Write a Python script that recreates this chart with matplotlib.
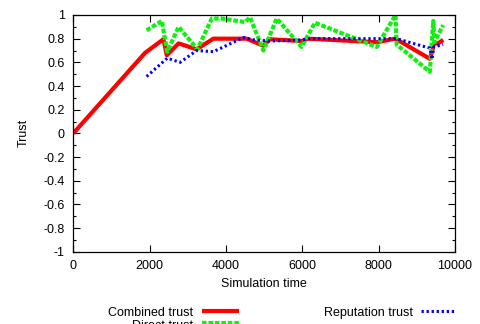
import matplotlib
matplotlib.use("Agg")
import matplotlib.pyplot as plt
from matplotlib.lines import Line2D
from matplotlib.ticker import MultipleLocator

plt.rcParams["font.family"] = ["Liberation Sans", "DejaVu Sans"]
plt.rcParams["font.size"] = 9
plt.rcParams["axes.unicode_minus"] = False

# Combined trust
combined_time = [0, 1880, 2360, 2450, 2760, 3230, 3670, 4540, 4980, 5150,
                 5980, 6140, 7950, 8440, 9340, 9400, 9450, 9560, 9690]
combined_trust = [0.0, 0.68, 0.795, 0.66, 0.76, 0.71, 0.80, 0.80, 0.74, 0.795,
                  0.78, 0.80, 0.77, 0.80, 0.63, 0.69, 0.76, 0.76, 0.79]

# Direct trust
direct_time = [1920, 2320, 2460, 2760, 3250, 3630, 3890, 4500, 4630, 4980,
               5330, 5980, 6330, 7950, 8440, 8470, 9340, 9430, 9460, 9690]
direct_trust = [0.87, 0.95, 0.69, 0.90, 0.71, 0.97, 0.97, 0.94, 0.98, 0.70,
                0.97, 0.73, 0.935, 0.73, 1.0, 0.75, 0.52, 0.95, 0.77, 0.915]

# Reputation trust
reputation_time = [1920, 2460, 2800, 3230, 3670, 4460, 4720, 5150, 6030, 6140,
                   8470, 9340, 9400, 9440, 9690]
reputation_trust = [0.48, 0.635, 0.60, 0.70, 0.69, 0.81, 0.79, 0.78, 0.79, 0.80,
                    0.80, 0.72, 0.625, 0.73, 0.75]

W, H = 480, 324
fig = plt.figure(figsize=(W / 100, H / 100), dpi=100)
ax = fig.add_axes([73.3 / W, 1 - 251.7 / H, (455 - 73.3) / W, (251.7 - 15) / H])

red_style = dict(color="#ff0000", lw=3.0, solid_capstyle="butt")
green_style = dict(color="#10f010", lw=3.0, dashes=(1.1, 0.45), dash_capstyle="butt")
blue_style = dict(color="#0000ff", lw=2.2, dashes=(0.75, 0.9), dash_capstyle="butt")

ax.plot(combined_time, combined_trust, **red_style)
ax.plot(direct_time, direct_trust, **green_style)
ax.plot(reputation_time, reputation_trust, **blue_style)

ax.set_xlim(0, 10000)
ax.set_ylim(-1, 1)
ax.xaxis.set_major_locator(MultipleLocator(2000))
ax.yaxis.set_major_locator(MultipleLocator(0.2))
ax.yaxis.set_minor_locator(MultipleLocator(0.1))
ax.yaxis.set_major_formatter(plt.FuncFormatter(
    lambda v, p: "0" if abs(v) < 1e-9 else ("%g" % round(v, 1))))
ax.tick_params(which="both", direction="in", top=True, right=True, colors="black")
ax.tick_params(which="major", length=5, width=0.8)
ax.tick_params(which="minor", length=2.5, width=0.8)
ax.tick_params(axis="x", pad=6)
ax.tick_params(axis="y", pad=6)
for s in ax.spines.values():
    s.set_linewidth(0.9)

ax.set_xlabel("Simulation time", labelpad=4)
ax.set_ylabel("Trust", labelpad=10)

# Key below the plot
def fx(x):
    return x / W

def fy(y):
    return 1 - y / H

fig.text(fx(193), fy(315.7), "Combined trust", ha="right", va="baseline")
fig.add_artist(Line2D([fx(202), fx(239)], [fy(310.5), fy(310.5)],
                      transform=fig.transFigure, **red_style))
fig.text(fx(193), fy(329.0), "Direct trust", ha="right", va="baseline")
fig.add_artist(Line2D([fx(202), fx(239)], [fy(322.5), fy(322.5)],
                      transform=fig.transFigure, **green_style))
fig.text(fx(413), fy(315.7), "Reputation trust", ha="right", va="baseline")
fig.add_artist(Line2D([fx(421), fx(456)], [fy(310.5), fy(310.5)],
                      transform=fig.transFigure, **blue_style))

fig.savefig("out.png", dpi=100)
